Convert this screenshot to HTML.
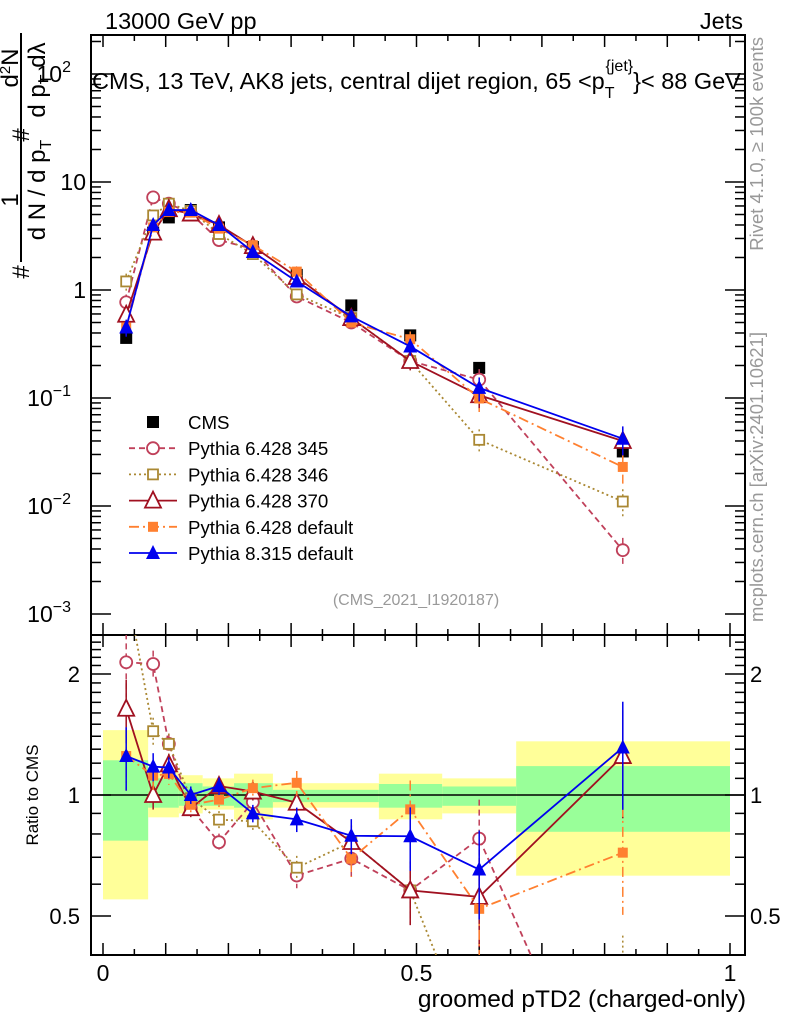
<!DOCTYPE html>
<html><head><meta charset="utf-8"><style>
html,body{margin:0;padding:0;background:#fff;width:786px;height:1024px;overflow:hidden;}
svg{display:block;font-family:"Liberation Sans",sans-serif;}
</style></head><body>
<svg id="chart" width="786" height="1024" viewBox="0 0 786 1024" xmlns="http://www.w3.org/2000/svg">
<defs>
<clipPath id="clipTop"><rect x="91" y="35" width="654" height="600"/></clipPath>
<clipPath id="clipRat"><rect x="91" y="635" width="654" height="320"/></clipPath>
</defs>
<text x="105" y="29" font-size="23.5">13000 GeV pp</text>
<text x="743" y="29" font-size="23.5" text-anchor="end">Jets</text>
<g id="bands" clip-path="url(#clipRat)"></g>
<g id="grid"></g>
<g id="topSeries" clip-path="url(#clipTop)"></g>
<g id="ratSeries" clip-path="url(#clipRat)"></g>
<text x="92" y="89" font-size="23.5">CMS, 13 TeV, AK8 jets, central dijet region, 65 &lt;p<tspan font-size="16" dy="9">T</tspan><tspan font-size="16" dy="-27" dx="-9">{jet}</tspan><tspan dy="18">}&lt; 88 GeV</tspan></text>
<g font-size="24">
<line x1="21" y1="33" x2="21" y2="262" stroke="#000" stroke-width="2"/>
<text transform="translate(29,272) rotate(-90)" text-anchor="middle">#</text>
<text transform="translate(18,200) rotate(-90)" text-anchor="middle">1</text>
<text transform="translate(45,190) rotate(-90)" text-anchor="middle">d N / d p<tspan font-size="16" dy="6">T</tspan></text>
<text transform="translate(29,135) rotate(-90)" text-anchor="middle">#</text>
<text transform="translate(18,68) rotate(-90)" text-anchor="middle">d<tspan font-size="15" dy="-8">2</tspan><tspan dy="8">N</tspan></text>
<text transform="translate(45,80) rotate(-90)" text-anchor="middle">d p<tspan font-size="16" dy="6">T</tspan><tspan dy="-6"> d</tspan>λ</text>
</g>
<text transform="translate(38,795) rotate(-90)" text-anchor="middle" font-size="17">Ratio to CMS</text>
<text transform="translate(763,37) rotate(-90)" text-anchor="end" font-size="18.5" fill="#999">Rivet 4.1.0, ≥ 100k events</text>
<text transform="translate(763,332) rotate(-90)" text-anchor="end" font-size="18.5" fill="#999">mcplots.cern.ch [arXiv:2401.10621]</text>
<text x="416" y="605" font-size="16" fill="#999" text-anchor="middle">(CMS_2021_I1920187)</text>
<text x="746" y="1007" font-size="24.5" text-anchor="end">groomed pTD2 (charged-only)</text>
<g id="legend"></g>
</svg>
<script>
const xVals=[0.037,0.080,0.105,0.140,0.185,0.239,0.309,0.396,0.490,0.600,0.829];
const cmsVals=[0.36,3.4,4.7,5.5,3.8,2.5,1.38,0.72,0.38,0.19,0.032];
const cmsErr=[0.03,0.03,0.03,0.03,0.03,0.03,0.04,0.05,0.06,0.08,0.15];
const p345=[0.77,7.2,6.3,5.1,2.9,2.4,0.87,0.50,0.22,0.148,0.0039];
const p346=[1.2,4.9,6.3,5.4,3.3,2.15,0.91,0.55,0.22,0.041,0.011];
const p370=[0.59,3.4,5.6,5.1,4.0,2.55,1.32,0.55,0.22,0.106,0.040];
const p6def=[0.45,3.8,5.3,5.2,3.7,2.6,1.48,0.50,0.35,0.099,0.023];
const p8def=[0.45,4.0,5.5,5.5,4.0,2.25,1.2,0.57,0.30,0.124,0.042];
const mcErr=[0.18,0.08,0.06,0.05,0.05,0.05,0.07,0.1,0.18,0.25,0.3];
const bandEdges=[0,0.072,0.121,0.159,0.209,0.271,0.440,0.541,0.659,1.0];
const yelHi=[1.45,1.15,1.12,1.10,1.13,1.07,1.13,1.10,1.36];
const grnHi=[1.22,1.10,1.07,1.05,1.07,1.03,1.065,1.05,1.18];
const grnLo=[0.77,0.93,0.94,0.94,0.93,0.96,0.93,0.94,0.81];
const yelLo=[0.55,0.88,0.90,0.92,0.87,0.93,0.87,0.90,0.63];
const xTickLabels=["0","0.5","1"];
const yTopLabels=[[100,"10","2"],[10,"10",""],[1,"1",""],[0.1,"10","−1"],[0.01,"10","−2"],[0.001,"10","−3"]];
const ratLabels=["0.5","1","2"];

const NS="http://www.w3.org/2000/svg";
const X0=91,X1=745,TT=35,TB=635,RB=955;
const xs=v=>103+627*v;
const yT=v=>290-108*Math.log10(v);
const yR=r=>795-402*Math.log10(r);
function mk(tag,attrs,parent){const e=document.createElementNS(NS,tag);for(const k in attrs)e.setAttribute(k,attrs[k]);parent.appendChild(e);return e;}
const grid=document.getElementById('grid');
const bandsG=document.getElementById('bands');
for(let i=0;i<bandEdges.length-1;i++){
  const xa=xs(bandEdges[i]),xb=xs(bandEdges[i+1]);
  const y1=mk('rect',{x:xa,y:yR(yelHi[i]),width:xb-xa,height:yR(yelLo[i])-yR(yelHi[i]),fill:'#ffff99'},bandsG);
  
  
  const g1=mk('rect',{x:xa,y:yR(grnHi[i]),width:xb-xa,height:yR(grnLo[i])-yR(grnHi[i]),fill:'#99ff99'},bandsG);
  
  
}
mk('line',{x1:X0,y1:yR(1),x2:X1,y2:yR(1),stroke:'#000','stroke-width':1.5},grid);
mk('rect',{x:X0,y:TT,width:X1-X0,height:TB-TT,fill:'none',stroke:'#000','stroke-width':2},grid);
mk('rect',{x:X0,y:TB,width:X1-X0,height:RB-TB,fill:'none',stroke:'#000','stroke-width':2},grid);
for(let i=0;i<=20;i++){const v=i*0.05,x=xs(v),L=(i%2==0)?12:6;
  [TT,TB,RB].forEach(y=>{ if(y!==TT) mk('line',{x1:x,y1:y,x2:x,y2:y-L,stroke:'#000','stroke-width':1.5},grid);
    if(y!==RB) mk('line',{x1:x,y1:y,x2:x,y2:y+L,stroke:'#000','stroke-width':1.5},grid);});
}
xTickLabels.forEach((l,i)=>{const t=mk('text',{x:xs(i*0.5),y:981,'font-size':23,'text-anchor':'middle'},grid);t.textContent=l;
  
  });
for(let d=-3;d<=2;d++){for(let m=1;m<=9;m++){const v=m*Math.pow(10,d),y=yT(v);if(y<TT||y>TB)continue;const L=m==1?20:10;
  mk('line',{x1:X0,y1:y,x2:X0+L,y2:y,stroke:'#000','stroke-width':1.5},grid);
  mk('line',{x1:X1,y1:y,x2:X1-L,y2:y,stroke:'#000','stroke-width':1.5},grid);}}
yTopLabels.forEach(a=>{const t=mk('text',{x:a[2]?71:86,y:yT(a[0])+8,'font-size':23,'text-anchor':'end'},grid);
  t.textContent=a[1];
  if(a[2]){const s=mk('tspan',{'font-size':16,dy:-10},t);s.textContent=a[2];}
  
  });
[0.4,0.5,0.6,0.7,0.8,0.9,1,1.1,1.2,1.3,1.4,1.5,1.6,1.7,1.8,1.9,2,2.1,2.2,2.3,2.4,2.5].forEach(r=>{const y=yR(r);if(y<TB||y>RB)return;
  const L=(r==0.5||r==1||r==2)?20:10;
  mk('line',{x1:X0,y1:y,x2:X0+L,y2:y,stroke:'#000','stroke-width':1.5},grid);
  mk('line',{x1:X1,y1:y,x2:X1-L,y2:y,stroke:'#000','stroke-width':1.5},grid);});
ratLabels.forEach(l=>{const r=parseFloat(l);
  const t=mk('text',{x:80,y:yR(r)+8,'font-size':22,'text-anchor':'end'},grid);t.textContent=l;
  
  
  const t2=mk('text',{x:750,y:yR(r)+8,'font-size':22},grid);t2.textContent=l;
  
  });

function marker(g,type,x,y,col,s){
  if(type=='sq') return mk('rect',{x:x-s,y:y-s,width:2*s,height:2*s,fill:col},g);
  if(type=='osq') return mk('rect',{x:x-s+1,y:y-s+1,width:2*s-2,height:2*s-2,fill:'#fff',stroke:col,'stroke-width':1.8},g);
  if(type=='oc') return mk('circle',{cx:x,cy:y,r:s,fill:'#fff',stroke:col,'stroke-width':1.8},g);
  if(type=='otri') return mk('polygon',{points:`${x},${y-s-2} ${x-s-1},${y+s} ${x+s+1},${y+s}`,fill:'#fff',stroke:col,'stroke-width':1.8},g);
  if(type=='tri') return mk('polygon',{points:`${x},${y-s-2} ${x-s-1},${y+s} ${x+s+1},${y+s}`,fill:col},g);
}
const seriesList=[
 {name:'pythia-6428-345',label:'Pythia 6.428 345',vals:p345,col:'#c0405a',dash:'6,4',m:'oc',s:6},
 {name:'pythia-6428-346',label:'Pythia 6.428 346',vals:p346,col:'#aa8833',dash:'2,3',m:'osq',s:6},
 {name:'pythia-6428-370',label:'Pythia 6.428 370',vals:p370,col:'#a01020',dash:'',m:'otri',s:7},
 {name:'pythia-6428-default',label:'Pythia 6.428 default',vals:p6def,col:'#ff8030',dash:'10,4,2,4',m:'sq',s:5},
 {name:'pythia-8315-default',label:'Pythia 8.315 default',vals:p8def,col:'#0000ee',dash:'',m:'tri',s:6}];
const topG=document.getElementById('topSeries'),ratG=document.getElementById('ratSeries');
const cg=mk('g',{},topG);


cmsVals.forEach((v,i)=>{const x=xs(xVals[i]),y=yT(v);
  mk('line',{x1:x,y1:yT(v*(1+cmsErr[i])),x2:x,y2:yT(v*(1-cmsErr[i])),stroke:'#000','stroke-width':1.5},cg);
  const m=marker(cg,'sq',x,y,'#000',6);
  
  });
seriesList.forEach(sr=>{
  [[topG,i=>yT(sr.vals[i]),(i,f)=>yT(sr.vals[i]*f)],[ratG,i=>yR(sr.vals[i]/cmsVals[i]),(i,f)=>yR(sr.vals[i]/cmsVals[i]*f)]].forEach(([par,fy,fe])=>{
    const g=mk('g',{},par);
    
    
    const pts=sr.vals.map((v,i)=>xs(xVals[i])+','+fy(i)).join(' ');
    const pl=mk('polyline',{points:pts,fill:'none',stroke:sr.col,'stroke-width':1.8,'stroke-dasharray':sr.dash},g);
    
    
    sr.vals.forEach((v,i)=>{const x=xs(xVals[i]);
      mk('line',{x1:x,y1:fe(i,1+mcErr[i]),x2:x,y2:fe(i,Math.max(0.001,1-mcErr[i])),stroke:sr.col,'stroke-width':1.5,'stroke-dasharray':sr.dash},g);
      const m=marker(g,sr.m,x,fy(i),sr.col,sr.s);
      
      });
  });
});
const lg=document.getElementById('legend');
const rows=[{label:'CMS',m:'sq',col:'#000',dash:null,s:6}].concat(seriesList);
rows.forEach((r,i)=>{const y=422+i*26.2;
  const g=mk('g',{},lg);
  
  
  if(r.dash!==null) mk('line',{x1:129,y1:y,x2:177,y2:y,stroke:r.col,'stroke-width':1.8,'stroke-dasharray':r.dash},g);
  marker(g,r.m,153,y,r.col,r.s);
  const t=mk('text',{x:188,y:y+7,'font-size':18.7},g);t.textContent=r.label;});
</script>
</body></html>
